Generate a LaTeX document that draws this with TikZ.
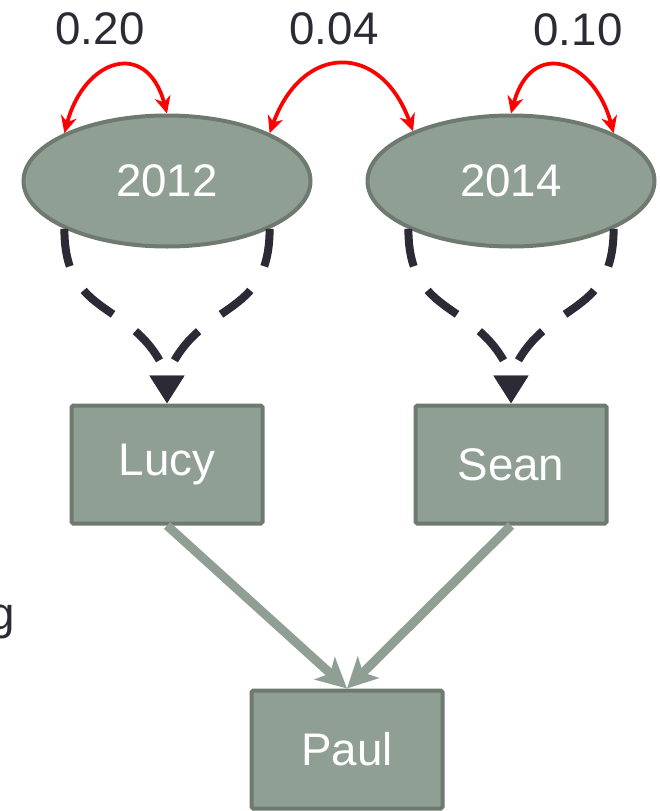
\documentclass[tikz,border=0pt]{standalone}
\usepackage{fontspec}
\setmainfont{Liberation Sans}
\usepackage{xcolor}
\usetikzlibrary{arrows.meta,shapes.geometric,positioning,calc}
\definecolor{nodefill}{HTML}{909F94}
\definecolor{nodeline}{HTML}{6E7A6F}
\definecolor{darkink}{HTML}{2B2A35}

\begin{document}
\begin{tikzpicture}
    \useasboundingbox (0,0) rectangle (13.18,-16.22);
    \begin{scope}[every node/.style={fill=nodefill,draw=nodeline,line width=0.08cm,text=white,inner sep=0pt,font=\fontsize{26}{30}\selectfont}]
        %latent
        \node[ellipse,minimum width=5.74cm,minimum height=2.62cm] (y2012) at (3.34,-3.62) {2012};
        \node[ellipse,minimum width=5.74cm,minimum height=2.62cm,right = 1.06cm of y2012] (y2014) {2014};

        %observed
        \node[rounded corners=1pt,minimum width=3.82cm,minimum height=2.36cm,below = 3.1cm of y2012] (lucy) {Lucy};
        \node[rounded corners=1pt,minimum width=3.82cm,minimum height=2.36cm,below = 3.1cm of y2014] (sean) {Sean};
        \node[rounded corners=1pt,minimum width=3.82cm,minimum height=2.36cm,below right = 3.26cm and -0.3cm of lucy] (paul) {Paul};
    \end{scope}

    %labels
    \begin{scope}[every node/.style={text=darkink,inner sep=0pt,font=\fontsize{26}{30}\selectfont}]
        \node (w2012) at (2.0,-0.58) {0.20};
        \node (c1214) at (6.68,-0.58) {0.04};
        \node (w2014) at (11.56,-0.6) {0.10};
        \node[anchor=base east] (cut) at (0.3,-12.58) {g};
    \end{scope}

    %loadings
    \begin{scope}[darkink,line width=0.16cm,dash pattern=on 0.76cm off 0.56cm,-{Triangle[length=0.56cm,width=0.66cm]}]
        \draw (y2012.205) .. controls +(0,-1.84) and +(-0.64,1.54) .. ($(lucy.north)+(0,0.56)$) -- (lucy.north);
        \draw (y2012.335) .. controls +(0,-1.84) and +(0.64,1.54) .. ($(lucy.north)+(0,0.56)$) -- (lucy.north);
        \draw (y2014.205) .. controls +(0,-1.84) and +(-0.64,1.54) .. ($(sean.north)+(0,0.56)$) -- (sean.north);
        \draw (y2014.335) .. controls +(0,-1.84) and +(0.64,1.54) .. ($(sean.north)+(0,0.56)$) -- (sean.north);
    \end{scope}

    %covariances
    \begin{scope}[red,line width=0.075cm,{Stealth[length=0.34cm,width=0.32cm]}-{Stealth[length=0.34cm,width=0.32cm]}]
        \draw (y2012.155) to[out=75,in=105,looseness=1.9] (y2012.north);
        \draw (y2012.25) to[out=70,in=110,looseness=1.7] (y2014.153);
        \draw (y2014.north) to[out=75,in=105,looseness=1.9] (y2014.25);
    \end{scope}

    %paths
    \begin{scope}[nodefill,line width=0.18cm,-{Stealth[length=0.6cm,width=0.6cm,inset=0.15cm]}]
        \draw (lucy.south) -- (paul.north);
        \draw (sean.south) -- (paul.north);
    \end{scope}
\end{tikzpicture}
\end{document}
